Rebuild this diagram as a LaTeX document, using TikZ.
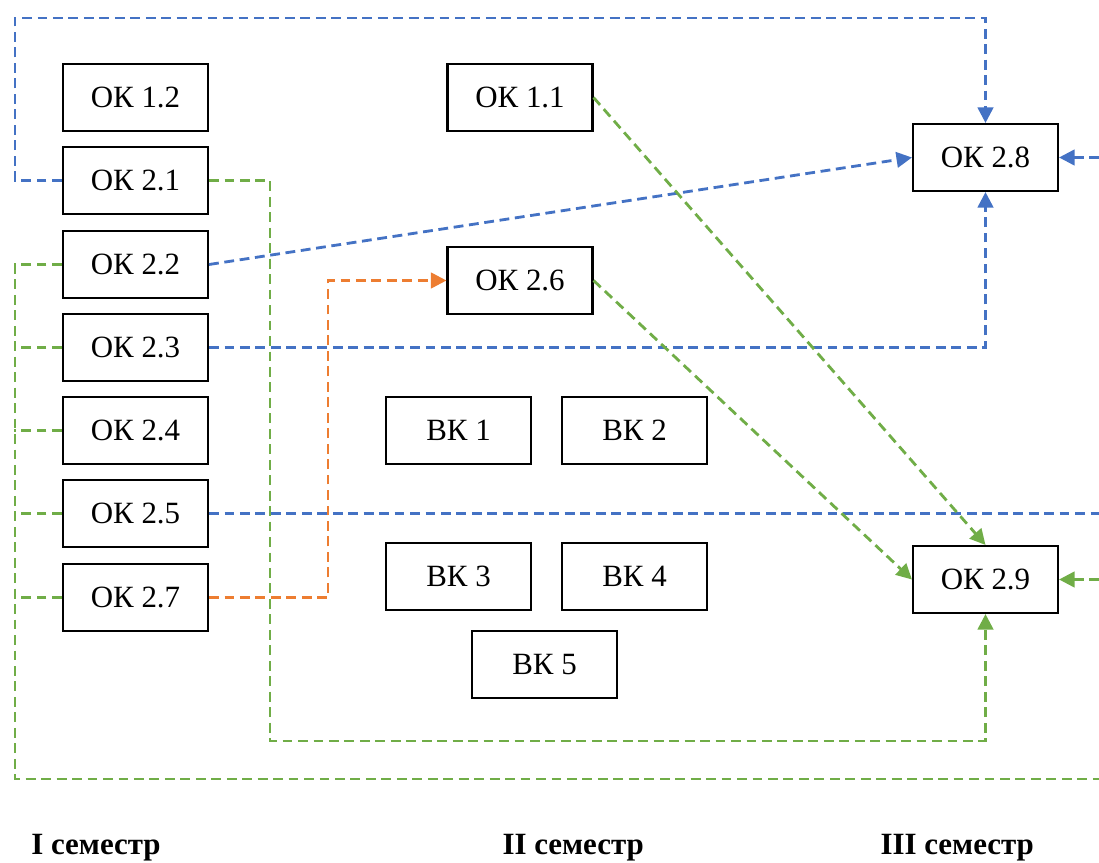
\documentclass[tikz,border=0pt]{standalone}
\usepackage{fontspec}
\setmainfont{Liberation Serif}
\usepackage{xcolor}
\usetikzlibrary{arrows.meta}
\definecolor{lineblue}{HTML}{4472C4}
\definecolor{linegreen}{HTML}{70AD47}
\definecolor{lineorange}{HTML}{ED7D31}
\tikzset{box/.style={rectangle,draw,line width=1.5pt,minimum width=3.625cm,minimum height=1.675cm,inner sep=0pt,font=\fontsize{22}{26}\selectfont}}
\tikzset{link/.style={line width=2pt,dash pattern=on 7pt off 4pt}}
\tikzset{sem/.style={font=\fontsize{22}{26}\selectfont\bfseries}}

\begin{document}
\begin{tikzpicture}[>={Triangle[length=11pt,width=11pt]}]
        \useasboundingbox (0,0) rectangle (27.475,-21.575);

        \node[box] (ok12) at (3.3875,-2.4375) {ОК 1.2};
        \node[box] (ok21) at (3.3875,-4.5125) {ОК 2.1};
        \node[box] (ok22) at (3.3875,-6.6125) {ОК 2.2};
        \node[box] (ok23) at (3.3875,-8.6875) {ОК 2.3};
        \node[box] (ok24) at (3.3875,-10.7625) {ОК 2.4};
        \node[box] (ok25) at (3.3875,-12.8375) {ОК 2.5};
        \node[box] (ok27) at (3.3875,-14.9375) {ОК 2.7};

        \node[box] (ok11) at (13.0,-2.4375) {ОК 1.1};
        \node[box] (ok26) at (13.0,-7.0125) {ОК 2.6};
        \node[box] (vk1) at (11.4625,-10.7625) {ВК 1};
        \node[box] (vk2) at (15.8625,-10.7625) {ВК 2};
        \node[box] (vk3) at (11.4625,-14.4125) {ВК 3};
        \node[box] (vk4) at (15.8625,-14.4125) {ВК 4};
        \node[box] (vk5) at (13.6125,-16.6125) {ВК 5};

        \node[box] (ok28) at (24.6375,-3.9375) {ОК 2.8};
        \node[box] (ok29) at (24.6375,-14.4875) {ОК 2.9};

        % free ends at the right edge
        \coordinate (in28) at (27.475,-3.9375);
        \coordinate (in29) at (27.475,-14.4875);
        \coordinate (out25) at (27.475,-12.8375);
        \coordinate (outg) at (27.475,-19.475);

        % blue
        \draw [link,lineblue,->] (ok21.west) -| (0.375,-0.45) -| (ok28.north);
        \draw [link,lineblue,->] (ok22.east) -- (ok28.west);
        \draw [link,lineblue,->] (ok23.east) -| (ok28.south);
        \draw [link,lineblue] (ok25.east) -- (out25);
        \draw [link,lineblue,->] (in28) -- (ok28.east);

        % green
        \draw [link,linegreen,->] (ok21.east) -| (6.75,-18.525) -| (ok29.south);
        \draw [link,linegreen] (ok22.west) -| (0.375,-19.475) -- (outg);
        \foreach \n in {23,24,25,27}
            \draw [link,linegreen] (ok\n.west) -- +(-1.2,0);
        \draw [link,linegreen,->] (ok11.east) -- (ok29.north);
        \draw [link,linegreen,->] (ok26.east) -- (ok29.west);
        \draw [link,linegreen,->] (in29) -- (ok29.east);

        % orange
        \draw [link,lineorange,->] (ok27.east) -- (8.2,-14.9375) |- (ok26.west);

        \node[sem] (s1) at (2.4,-21.2) {I семестр};
        \node[sem] (s2) at (14.33,-21.2) {II семестр};
        \node[sem] (s3) at (23.93,-21.2) {III семестр};
    \end{tikzpicture}
\end{document}
